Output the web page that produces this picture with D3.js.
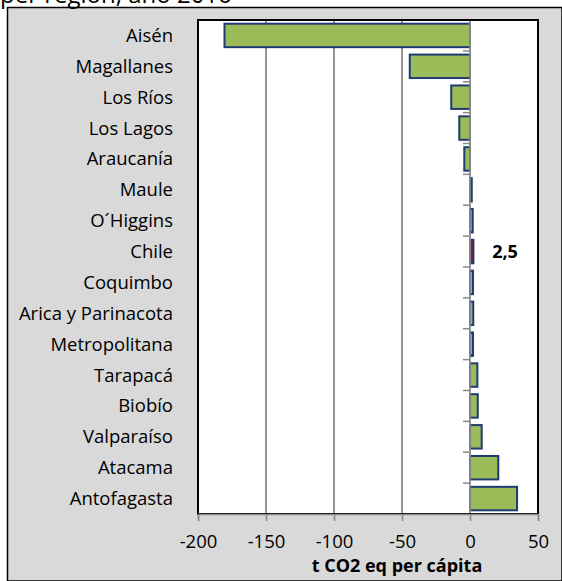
<!DOCTYPE html>
<html>
<head>
<meta charset="utf-8">
<script src="https://cdn.jsdelivr.net/npm/d3@7"></script>
<style>
  html, body { margin: 0; padding: 0; background: #ffffff; }
  svg { display: block; }
  text { font-family: "Open Sans", Lato, sans-serif; fill: #000; }
</style>
</head>
<body>
<svg id="chart" width="562" height="581"></svg>
<script>
// Regional emissions, t CO2 eq per cápita
const regions = ["Aisén", "Magallanes", "Los Ríos", "Los Lagos", "Araucanía", "Maule",
  "O´Higgins", "Chile", "Coquimbo", "Arica y Parinacota", "Metropolitana", "Tarapacá",
  "Biobío", "Valparaíso", "Atacama", "Antofagasta"];
const values = [-180.5, -44.3, -13.8, -7.9, -4.2, 1.3, 2.0, 2.5, 2.2, 2.4, 2.2, 5.4,
  5.7, 8.6, 20.8, 34.6];
const xTicks = [-200, -150, -100, -50, 0, 50];
const highlighted = "Chile";
const axisTitle = "t CO2 eq per cápita";
const subtitle = "per región, año 2016";

const svg = d3.select("#chart");
const plot = { left: 198, right: 538, top: 20, bottom: 514 };
const labelSize = 18.5;
const gridColor = "#898989";

// Outer chart panel
svg.append("path")
  .attr("d", "M7.5,581V7.5H562V581Z")
  .attr("fill", "rgb(217,217,217)")
  .attr("stroke", "#000").attr("stroke-width", 1.5);

// Partially visible subtitle
svg.append("text")
  .attr("x", 0).attr("y", 3)
  .attr("font-size", 24)
  .text(subtitle);

const x = d3.scaleLinear().domain([-200, 50]).range([plot.left, plot.right]);
const y = d3.scaleBand().domain(regions).range([plot.top, plot.bottom])
  .paddingInner(0.24).paddingOuter(0.12);

// Plot area
svg.append("rect")
  .attr("x", plot.left).attr("y", plot.top)
  .attr("width", plot.right - plot.left).attr("height", plot.bottom - plot.top)
  .attr("fill", "#fff");

// Vertical gridlines
svg.append("g")
  .selectAll("line")
  .data(xTicks.filter(t => t > -200 && t < 50 && t !== 0))
  .join("line")
  .attr("x1", d => x(d)).attr("x2", d => x(d))
  .attr("y1", plot.top).attr("y2", plot.bottom)
  .attr("stroke", gridColor).attr("stroke-width", 1.8);

// Bars
svg.append("g")
  .selectAll("rect")
  .data(regions.map((r, i) => ({ r, v: values[i] })))
  .join("rect")
  .attr("x", d => x(Math.min(0, d.v)))
  .attr("y", d => y(d.r))
  .attr("width", d => Math.abs(x(d.v) - x(0)))
  .attr("height", y.bandwidth())
  .attr("fill", d => d.r === highlighted ? "#d0001c" : "#9bbb59")
  .attr("stroke", "#1f3b73").attr("stroke-width", 2);

// Category axis at zero with short ticks between categories
const step = y.step();
const firstEdge = y(regions[0]) - y.paddingInner() * step / 2;
const boundaries = d3.range(1, regions.length).map(i => firstEdge + i * step);
svg.append("g")
  .selectAll("line")
  .data(boundaries)
  .join("line")
  .attr("x1", x(0) - 7).attr("x2", x(0))
  .attr("y1", d => d).attr("y2", d => d)
  .attr("stroke", gridColor).attr("stroke-width", 1.5);
svg.append("line")
  .attr("x1", x(0)).attr("x2", x(0))
  .attr("y1", plot.top).attr("y2", plot.bottom)
  .attr("stroke", gridColor).attr("stroke-width", 1.8);

// Plot border
svg.append("rect")
  .attr("x", plot.left).attr("y", plot.top)
  .attr("width", plot.right - plot.left).attr("height", plot.bottom - plot.top)
  .attr("fill", "none").attr("stroke", "#000").attr("stroke-width", 2);

// Value axis
const xAxis = svg.append("g")
  .attr("transform", `translate(0,${plot.bottom})`)
  .call(d3.axisBottom(x).tickValues(xTicks).tickSize(7).tickPadding(14).tickFormat(d3.format("d")));
xAxis.select(".domain").attr("stroke", gridColor).attr("stroke-width", 1.5);
xAxis.selectAll(".tick line").attr("stroke", gridColor).attr("stroke-width", 1.5);
xAxis.selectAll(".tick text")
  .attr("font-size", labelSize).attr("font-family", "'Open Sans', sans-serif").attr("fill", "#000")
  .text(d => d < 0 ? "-" + Math.abs(d) : d);

// Category labels
svg.append("g")
  .selectAll("text")
  .data(regions)
  .join("text")
  .attr("x", 173)
  .attr("y", d => y(d) + y.bandwidth() / 2)
  .attr("dy", "0.35em")
  .attr("text-anchor", "end")
  .attr("font-size", labelSize)
  .text(d => d);

// Value label for the national figure
const hv = values[regions.indexOf(highlighted)];
svg.append("text")
  .attr("x", 505)
  .attr("y", y(highlighted) + y.bandwidth() / 2)
  .attr("dy", "0.35em")
  .attr("text-anchor", "middle")
  .attr("font-size", 18).attr("font-weight", "bold")
  .text(d3.format(".1f")(hv).replace(".", ","));

// Axis title
svg.append("text")
  .attr("x", 397).attr("y", 566)
  .attr("dy", "0.35em")
  .attr("text-anchor", "middle")
  .attr("font-size", 18).attr("font-weight", "bold")
  .text(axisTitle);
</script>
</body>
</html>
